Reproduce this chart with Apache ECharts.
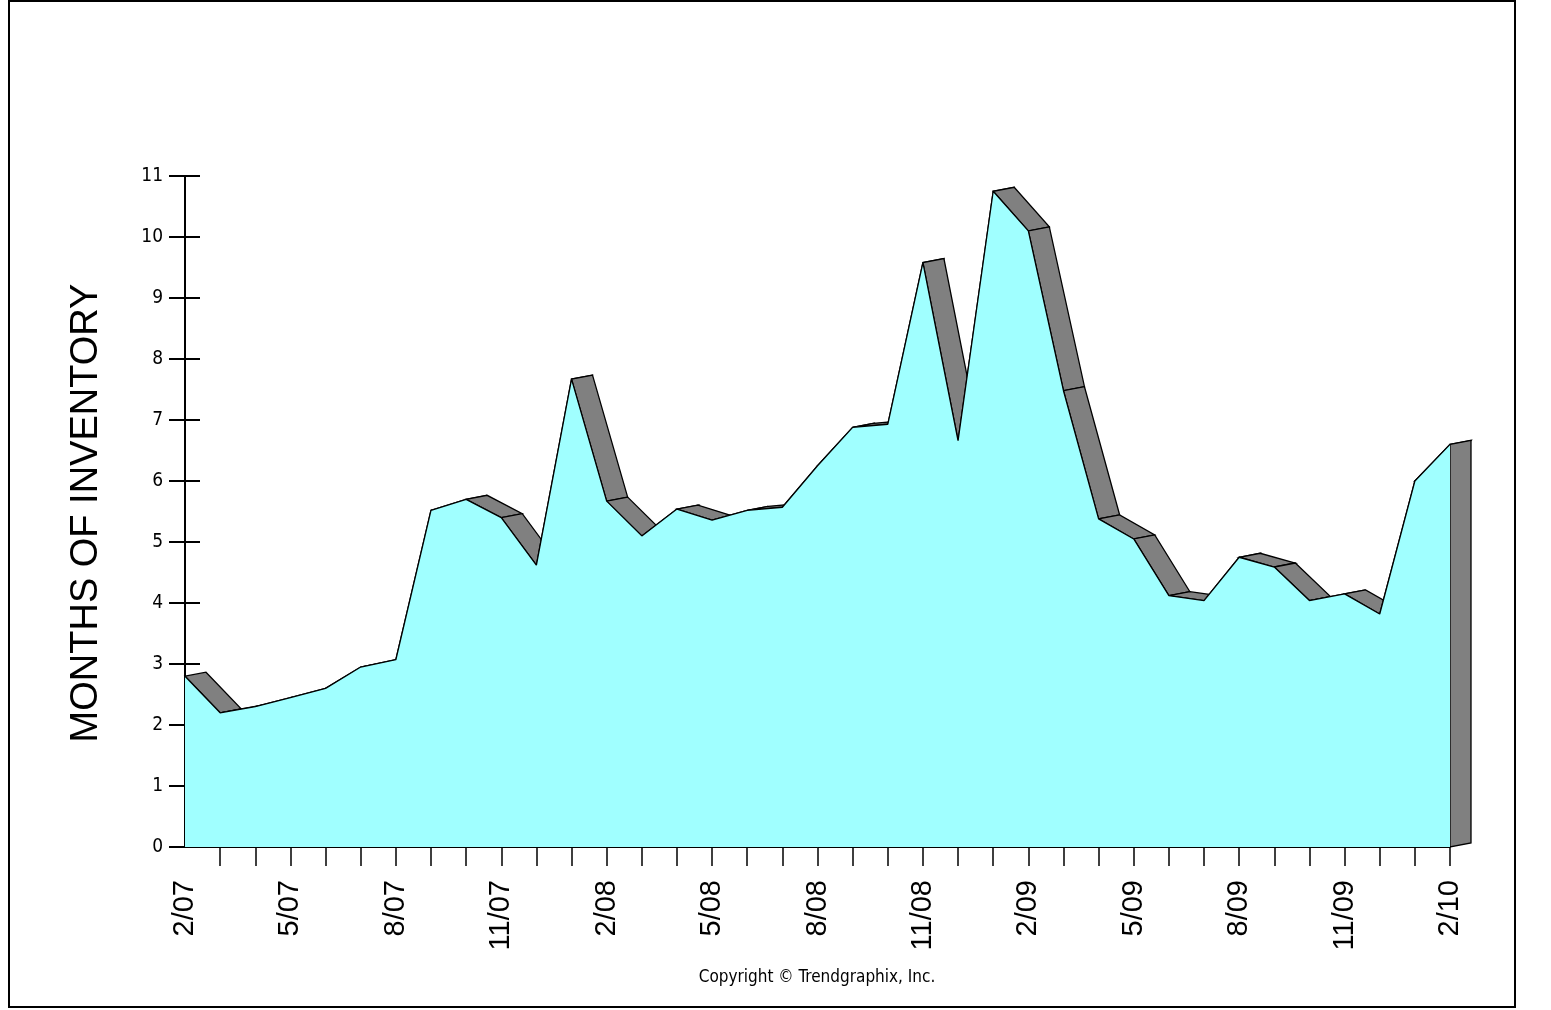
<!DOCTYPE html>
<html><head><meta charset="utf-8">
<script src="https://cdn.jsdelivr.net/npm/echarts@6/dist/echarts.min.js"></script>
<style>html,body{margin:0;padding:0;background:#fff}#c{width:1551px;height:1010px}</style>
</head><body><div id="c"></div>
<script>
const months = ['2/07','3/07','4/07','5/07','6/07','7/07','8/07','9/07','10/07','11/07','12/07',
  '1/08','2/08','3/08','4/08','5/08','6/08','7/08','8/08','9/08','10/08','11/08','12/08',
  '1/09','2/09','3/09','4/09','5/09','6/09','7/09','8/09','9/09','10/09','11/09','12/09',
  '1/10','2/10'];
const inventory = [2.8,2.2,2.3,2.45,2.6,2.95,3.07,5.52,5.7,5.4,4.62,
  7.67,5.67,5.1,5.54,5.36,5.52,5.57,6.25,6.88,6.93,9.58,6.66,
  10.75,10.1,7.48,5.38,5.05,4.12,4.04,4.75,4.59,4.04,4.15,3.82,
  6.0,6.6];
const yMin = 0, yMax = 11, yStep = 1;

const DX = 21, DY = -4; // depth offset of the 3D side faces (px)

const sideData = inventory.slice(0, -1).map((v, i) => [i, v, inventory[i + 1], 0]);
sideData.push([inventory.length - 1, inventory[inventory.length - 1], 0, 1]);

const chart = echarts.init(document.getElementById('c'));
const labelFont = "'Liberation Sans Narrow','DejaVu Sans Condensed','Liberation Sans',sans-serif";
chart.setOption({
  animation: false,
  backgroundColor: '#fff',
  grid: { left: 185, right: 101, top: 176, bottom: 163 },
  xAxis: {
    type: 'category', data: months, boundaryGap: false,
    axisLine: { lineStyle: { color: '#000', width: 1 } },
    axisTick: { length: 19, interval: (idx) => idx > 0, lineStyle: { color: '#000', width: 1.5 } },
    axisLabel: { interval: 2, rotate: 90, margin: 33, color: '#000', fontSize: 29,
      fontFamily: "'Liberation Sans',Arial,sans-serif" }
  },
  yAxis: [{
    type: 'value', min: yMin, max: yMax, interval: yStep,
    axisLine: { show: true, lineStyle: { color: '#000', width: 2 } },
    axisTick: { show: true, length: 16, lineStyle: { color: '#000', width: 2 } },
    axisLabel: { margin: 22, color: '#000', fontSize: 19, fontFamily: labelFont },
    splitLine: { show: false }
  }, {
    type: 'value', min: yMin, max: yMax, interval: yStep, position: 'left',
    axisLine: { show: false },
    axisTick: { show: true, inside: true, length: 15, lineStyle: { color: '#000', width: 2 } },
    axisLabel: { show: false },
    splitLine: { show: false }
  }],
  series: [{
    type: 'custom', z: 1, data: sideData, encode: { x: 0, y: 1 },
    renderItem: function (params, api) {
      const i = api.value(0), a = api.value(1), b = api.value(2), kind = api.value(3);
      let pts;
      if (kind === 0) {
        const p1 = api.coord([i, a]), p2 = api.coord([i + 1, b]);
        pts = [p1, p2, [p2[0] + DX, p2[1] + DY], [p1[0] + DX, p1[1] + DY]];
      } else {
        const p1 = api.coord([i, a]), p2 = api.coord([i, 0]);
        pts = [p1, [p1[0] + DX, p1[1] + DY], [p2[0] + DX, p2[1] + DY], p2];
      }
      return { type: 'polygon', shape: { points: pts },
        style: { fill: '#808080', stroke: '#000', lineWidth: 1.3 } };
    }
  }, {
    type: 'line', z: 3, data: inventory, symbol: 'none',
    lineStyle: { color: '#000', width: 1.3 },
    areaStyle: { color: '#A0FFFF', opacity: 1 }
  }],
  graphic: [{
    type: 'rect', z: 100, silent: true,
    shape: { x: 9, y: 1, width: 1506, height: 1006 },
    style: { fill: 'none', stroke: '#000', lineWidth: 2 }
  }, {
    type: 'text', z: 100, x: 87, y: 513, rotation: Math.PI / 2,
    style: { text: 'MONTHS OF INVENTORY', fill: '#000', fontSize: 38,
      fontFamily: "'Liberation Sans',Arial,sans-serif", align: 'center', verticalAlign: 'middle' }
  }, {
    type: 'text', z: 100, x: 817, y: 978,
    style: { text: 'Copyright \u00A9 Trendgraphix, Inc.', fill: '#000', fontSize: 17,
      fontFamily: labelFont, align: 'center', verticalAlign: 'middle' }
  }]
});
</script></body></html>
